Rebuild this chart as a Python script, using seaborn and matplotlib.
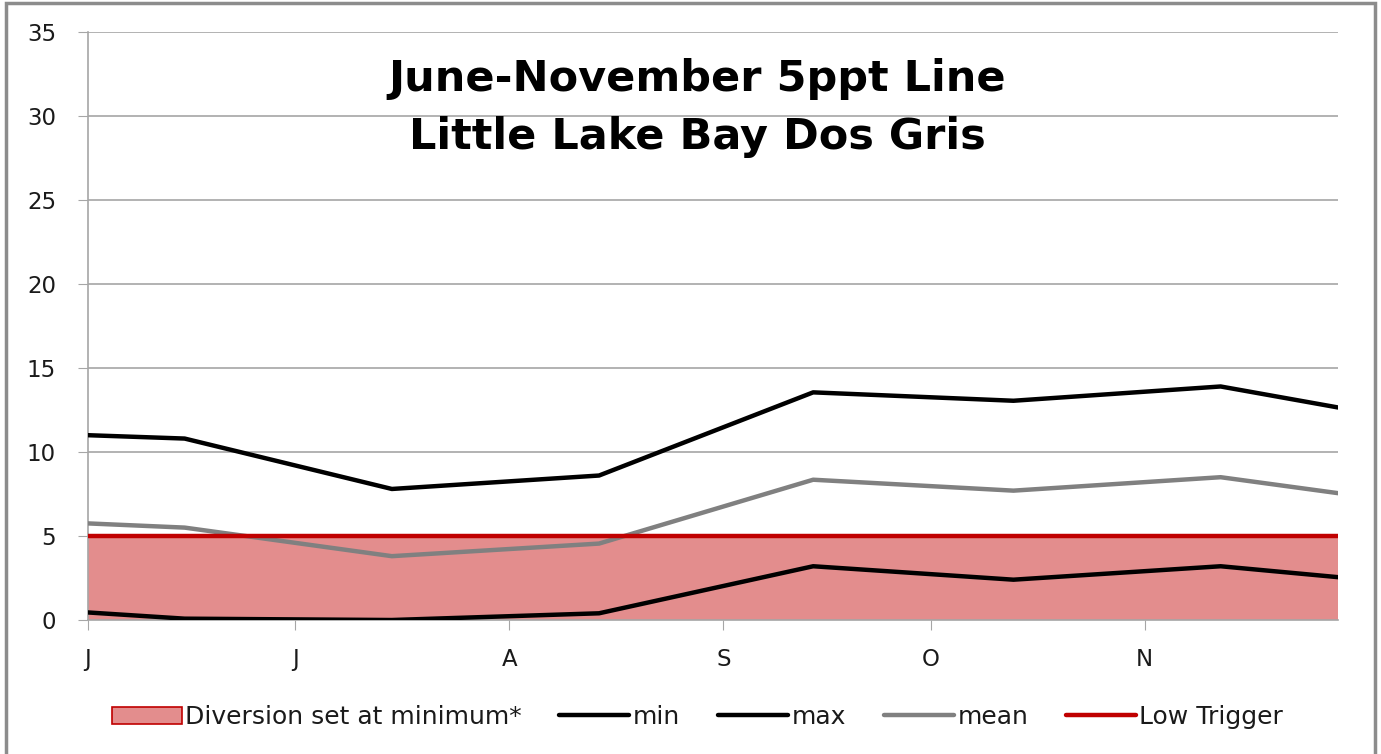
import pandas as pd
import matplotlib
matplotlib.use("Agg")
import matplotlib.pyplot as plt
from matplotlib.patches import Patch, Rectangle
from matplotlib.lines import Line2D
import seaborn as sns

# data
dates = pd.to_datetime(["2010-06-01", "2010-06-15", "2010-07-15", "2010-08-14",
                        "2010-09-14", "2010-10-13", "2010-11-12", "2010-11-29"])
min_vals = [0.45, 0.08, 0.0, 0.4, 3.2, 2.4, 3.2, 2.55]
max_vals = [11.0, 10.8, 7.8, 8.6, 13.55, 13.05, 13.9, 12.65]
mean_vals = [5.75, 5.5, 3.8, 4.55, 8.35, 7.7, 8.5, 7.55]
trigger_dates = pd.to_datetime(["2010-06-01", "2010-11-29"])
trigger_vals = [5, 5]
diversion_vals = [5, 5]
month_ticks = pd.to_datetime(["2010-06-01", "2010-07-01", "2010-08-01",
                              "2010-09-01", "2010-10-01", "2010-11-01"])
month_labels = ["J", "J", "A", "S", "O", "N"]

sns.set_style("white")
plt.rcParams['font.family'] = ['DejaVu Sans']

fig = plt.figure(figsize=(13.81, 7.54), dpi=100)
ax = fig.add_axes([0.0637, 0.1777, 0.9052, 0.7799])

fill_col = "#E38D8D"
red = "#C00000"
grid_col = "#A6A6A6"
txt_col = "#1A1A1A"

# shaded band under the low trigger
ax.fill_between(trigger_dates, 0, diversion_vals, color=fill_col, lw=0, zorder=1)
sns.lineplot(x=dates, y=min_vals, color="black", lw=3.2, ax=ax, zorder=3)
sns.lineplot(x=dates, y=max_vals, color="black", lw=3.2, ax=ax, zorder=3)
sns.lineplot(x=dates, y=mean_vals, color="#808080", lw=3.2, ax=ax, zorder=3)
sns.lineplot(x=trigger_dates, y=trigger_vals, color=red, lw=3.2, ax=ax, zorder=4)

ax.set_xlim(trigger_dates[0], trigger_dates[-1])
ax.set_ylim(0, 35)
ax.set_yticks(range(0, 36, 5))
ax.set_xticks(month_ticks)
ax.set_xticklabels(month_labels)
ax.set_xlabel("")
ax.set_ylabel("")
ax.yaxis.grid(True, color=grid_col, lw=1.2, zorder=0)
ax.set_axisbelow(True)
for s in ["top", "right"]:
    ax.spines[s].set_visible(False)
for s in ["left", "bottom"]:
    ax.spines[s].set_color(grid_col)
    ax.spines[s].set_linewidth(1.2)
ax.tick_params(axis="y", length=7, color=grid_col, labelsize=16.5, pad=16, labelcolor=txt_col)
ax.tick_params(axis="x", length=7, color=grid_col, labelsize=16.5, pad=13, labelcolor=txt_col)
ax.tick_params(left=True, bottom=True, direction="out")

fig.text(0.505, 0.857, "June-November 5ppt Line\nLittle Lake Bay Dos Gris",
         ha="center", va="center", fontsize=31, fontweight="bold",
         linespacing=1.5, color="black")

handles = [
    Patch(facecolor=fill_col, edgecolor=red, lw=1.2),
    Line2D([], [], color="black", lw=3.2),
    Line2D([], [], color="black", lw=3.2),
    Line2D([], [], color="#808080", lw=3.2),
    Line2D([], [], color=red, lw=3.2),
]
labels = ["Diversion set at minimum*", "min", "max", "mean", "Low Trigger"]
fig.legend(handles, labels, loc="center", bbox_to_anchor=(0.505, 0.049), ncol=5,
           frameon=False, fontsize=18, handlelength=2.8, handletextpad=0.15,
           columnspacing=1.5, labelcolor=txt_col)

fig.patches.append(Rectangle((0.004, -0.01), 0.992, 1.006, transform=fig.transFigure,
                             fill=False, edgecolor="#8C8C8C", lw=2.5))

fig.savefig("out.png", dpi=100)
